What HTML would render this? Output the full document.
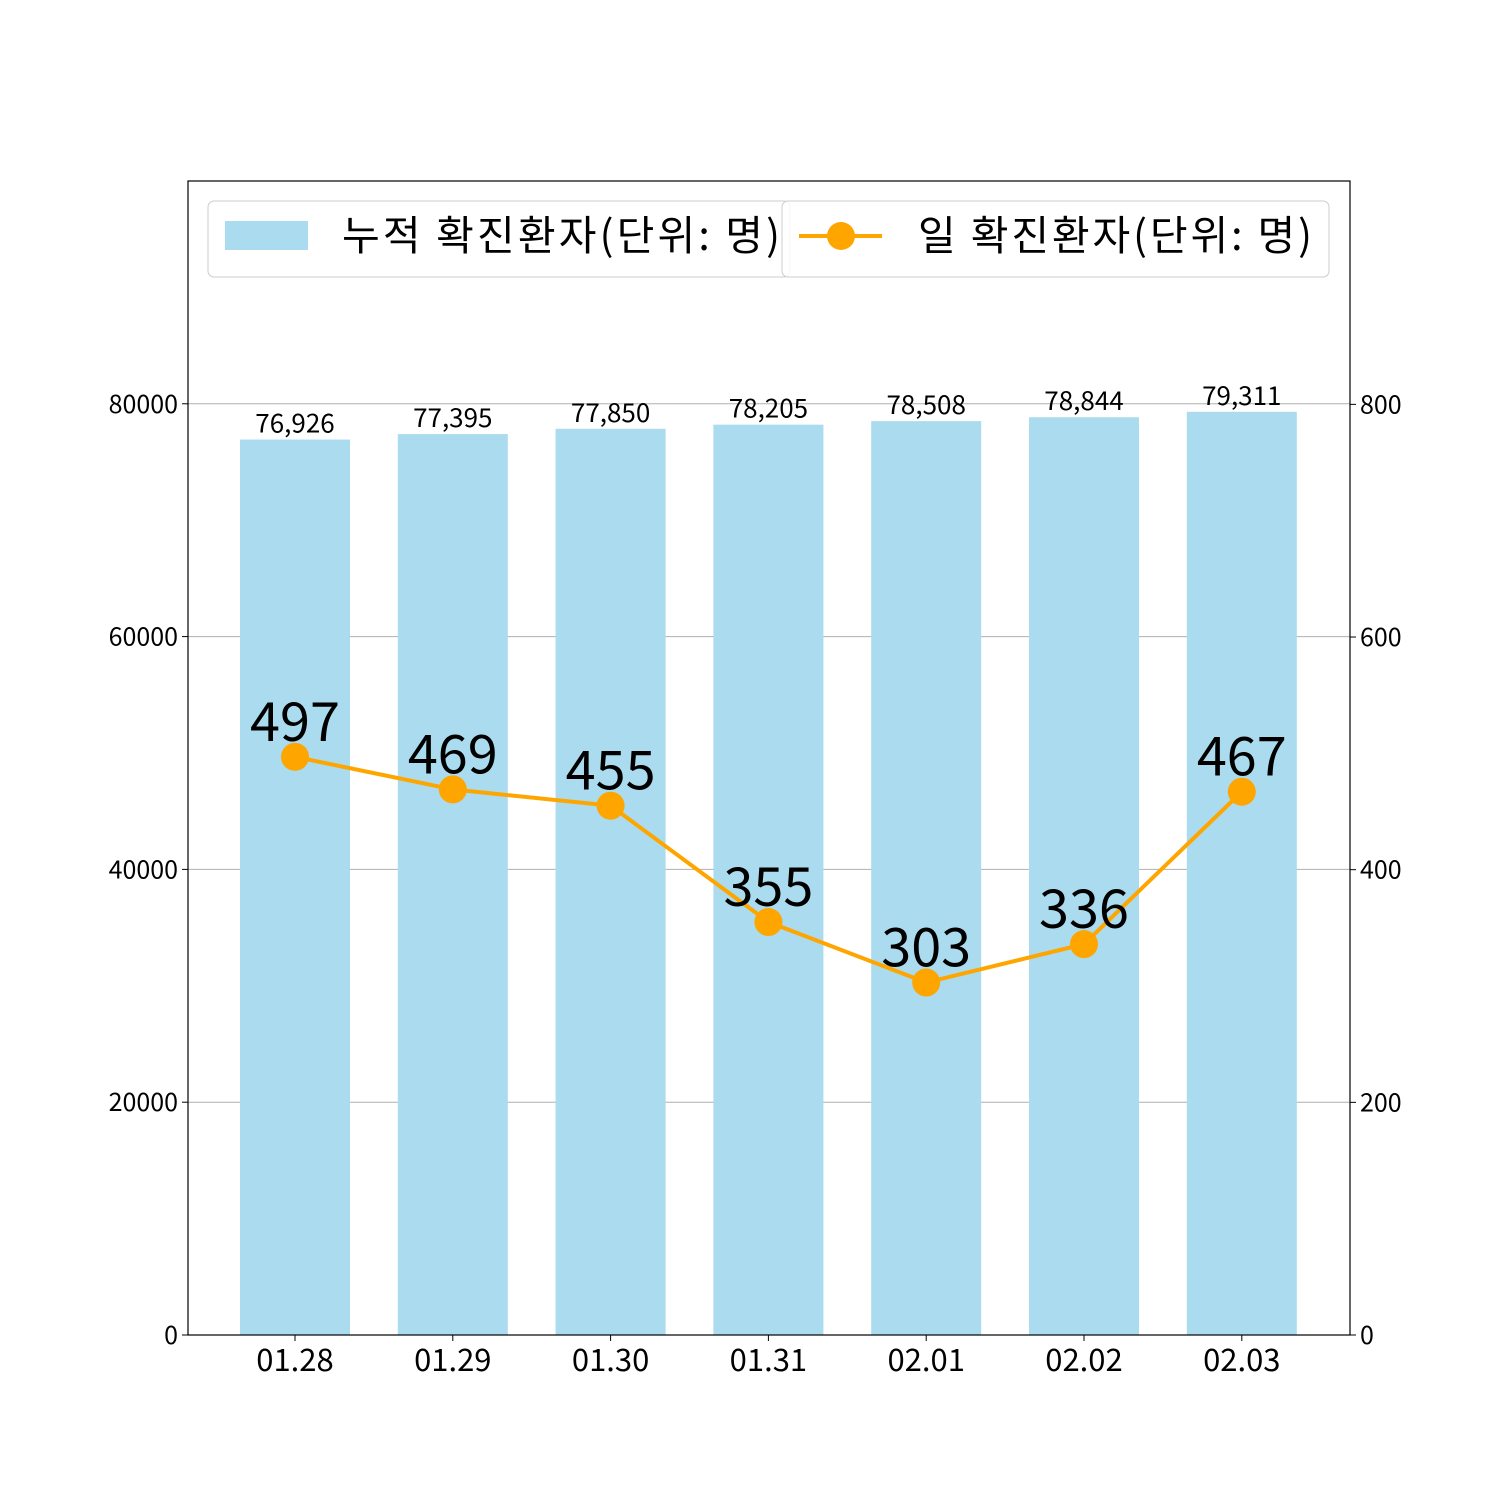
<!DOCTYPE html>
<html><head><meta charset="utf-8"><style>
body{margin:0;background:#fff}
svg text{font-family:"Noto Sans CJK KR","Liberation Sans",sans-serif}
</style></head><body>
<svg id="chart" width="1500" height="1500" xmlns="http://www.w3.org/2000/svg"></svg>
<script>
const categories=["01.28","01.29","01.30","01.31","02.01","02.02","02.03"];
const cumulative=[76926,77395,77850,78205,78508,78844,79311];
const daily=[497,469,455,355,303,336,467];
const leftTicks=[0,20000,40000,60000,80000];
const rightTicks=[0,200,400,600,800];
const L=188,R=1350,T=181,B=1335;
const yMaxL=99139,yMaxR=992;
const step=157.8,x0=295;
const xs=i=>x0+i*step;
const yL=v=>B-(B-T)*v/yMaxL;
const yR=v=>B-(B-T)*v/yMaxR;
const svg=document.getElementById('chart');
const NS="http://www.w3.org/2000/svg";
function mk(tag,attrs,parent,text){const e=document.createElementNS(NS,tag);for(const k in attrs)e.setAttribute(k,attrs[k]);if(text!==undefined)e.textContent=text;(parent||svg).appendChild(e);return e;}
leftTicks.forEach(v=>{if(v>0){const g=mk('line',{x1:L,x2:R,y1:yL(v),y2:yL(v),stroke:'#b0b0b0','stroke-width':1});

}});
categories.forEach((c,i)=>{
 const b=mk('rect',{x:xs(i)-55,y:yL(cumulative[i]),width:110,height:B-yL(cumulative[i]),fill:'#aadbee'});
 
 
 const t=mk('text',{x:xs(i),y:yL(cumulative[i])-7,'text-anchor':'middle','font-size':26,fill:'#000'},null,cumulative[i].toLocaleString('en-US'));
 
 
 const xt=mk('text',{x:xs(i),y:1371,'text-anchor':'middle','font-size':31,fill:'#000'},null,c);
 
 
 mk('line',{x1:xs(i),x2:xs(i),y1:B,y2:B+6,stroke:'#000'});
});
const pts=daily.map((v,i)=>xs(i)+','+yR(v)).join(' ');
const ln=mk('polyline',{points:pts,fill:'none',stroke:'#ffa500','stroke-width':4});


daily.forEach((v,i)=>{
 const c=mk('circle',{cx:xs(i),cy:yR(v),r:14,fill:'#ffa500'});
 
 
 const t=mk('text',{x:xs(i),y:yR(v)-16,'text-anchor':'middle','font-size':54,fill:'#000'},null,String(v));
 
 
});
const fr=mk('rect',{x:L,y:T,width:R-L,height:B-T,fill:'none',stroke:'#000','stroke-width':1.2});


leftTicks.forEach(v=>{
 mk('line',{x1:L-6,x2:L,y1:yL(v),y2:yL(v),stroke:'#000'});
 const t=mk('text',{x:L-10,y:yL(v)+9,'text-anchor':'end','font-size':25,fill:'#000'},null,String(v));
 
 
});
rightTicks.forEach(v=>{
 mk('line',{x1:R,x2:R+6,y1:yR(v),y2:yR(v),stroke:'#000'});
 const t=mk('text',{x:R+10,y:yR(v)+9,'text-anchor':'start','font-size':25,fill:'#000'},null,String(v));
 
 
});
const lg1=mk('g',{});


mk('rect',{x:208,y:201,width:582,height:76,rx:6,fill:'#fff','fill-opacity':0.8,stroke:'#ccc'},lg1);
mk('rect',{x:225,y:221,width:83,height:29,fill:'#aadbee'},lg1);
mk('text',{x:342,y:250,'font-size':41,fill:'#000',textLength:438,lengthAdjust:'spacing'},lg1,'누적 확진환자(단위: 명)');
const lg2=mk('g',{});


mk('rect',{x:782,y:201,width:547,height:76,rx:6,fill:'#fff','fill-opacity':0.8,stroke:'#ccc'},lg2);
mk('line',{x1:799,x2:882,y1:236,y2:236,stroke:'#ffa500','stroke-width':4},lg2);
mk('circle',{cx:841,cy:236,r:14,fill:'#ffa500'},lg2);
mk('text',{x:918,y:250,'font-size':41,fill:'#000',textLength:394,lengthAdjust:'spacing'},lg2,'일 확진환자(단위: 명)');
</script>
</body></html>
